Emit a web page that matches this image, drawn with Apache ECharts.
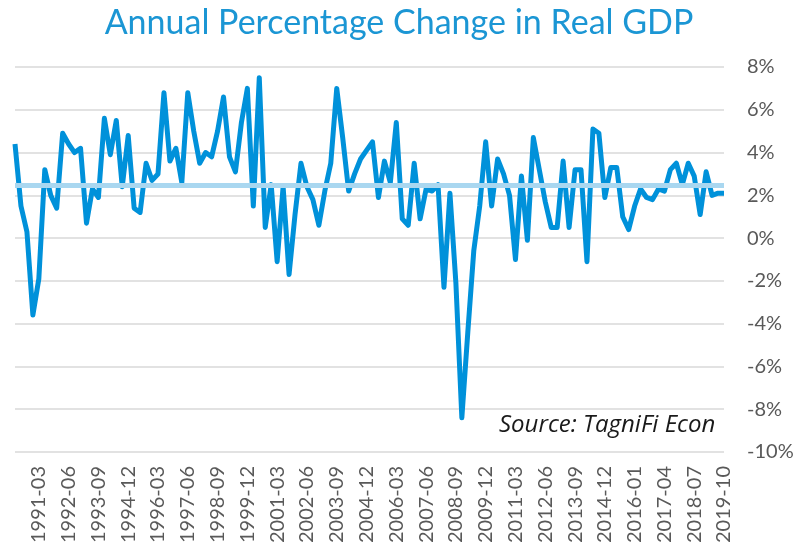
<!DOCTYPE html>
<html>
<head>
<meta charset="utf-8">
<title>Annual Percentage Change in Real GDP</title>
<script src="https://cdn.jsdelivr.net/npm/echarts@6/dist/echarts.min.js"></script>
<style>
  html, body { margin: 0; padding: 0; background: #fff; }
  #chart { width: 798px; height: 548px; }
</style>
</head>
<body>
<div id="chart"></div>
<script>
// quarters, 1990 Q1 .. 2019 Q4 (source switched to first-month-of-quarter dates in 2015)
const quarters = [
  '1990-03', '1990-06', '1990-09', '1990-12', '1991-03', '1991-06', '1991-09', '1991-12',
  '1992-03', '1992-06', '1992-09', '1992-12', '1993-03', '1993-06', '1993-09', '1993-12',
  '1994-03', '1994-06', '1994-09', '1994-12', '1995-03', '1995-06', '1995-09', '1995-12',
  '1996-03', '1996-06', '1996-09', '1996-12', '1997-03', '1997-06', '1997-09', '1997-12',
  '1998-03', '1998-06', '1998-09', '1998-12', '1999-03', '1999-06', '1999-09', '1999-12',
  '2000-03', '2000-06', '2000-09', '2000-12', '2001-03', '2001-06', '2001-09', '2001-12',
  '2002-03', '2002-06', '2002-09', '2002-12', '2003-03', '2003-06', '2003-09', '2003-12',
  '2004-03', '2004-06', '2004-09', '2004-12', '2005-03', '2005-06', '2005-09', '2005-12',
  '2006-03', '2006-06', '2006-09', '2006-12', '2007-03', '2007-06', '2007-09', '2007-12',
  '2008-03', '2008-06', '2008-09', '2008-12', '2009-03', '2009-06', '2009-09', '2009-12',
  '2010-03', '2010-06', '2010-09', '2010-12', '2011-03', '2011-06', '2011-09', '2011-12',
  '2012-03', '2012-06', '2012-09', '2012-12', '2013-03', '2013-06', '2013-09', '2013-12',
  '2014-03', '2014-06', '2014-09', '2014-12', '2015-01', '2015-04', '2015-07', '2015-10',
  '2016-01', '2016-04', '2016-07', '2016-10', '2017-01', '2017-04', '2017-07', '2017-10',
  '2018-01', '2018-04', '2018-07', '2018-10', '2019-01', '2019-04', '2019-07', '2019-10'
];

// real GDP change, %
const gdpChange = [
  4.4, 1.5, 0.3, -3.6, -1.9, 3.2, 2.0, 1.4,
  4.9, 4.4, 4.0, 4.2, 0.7, 2.3, 1.9, 5.6,
  3.9, 5.5, 2.4, 4.8, 1.4, 1.2, 3.5, 2.7,
  3.0, 6.8, 3.6, 4.2, 2.6, 6.8, 5.0, 3.5,
  4.0, 3.8, 5.0, 6.6, 3.8, 3.1, 5.4, 7.0,
  1.5, 7.5, 0.5, 2.5, -1.1, 2.4, -1.7, 1.1,
  3.5, 2.4, 1.8, 0.6, 2.2, 3.5, 7.0, 4.7,
  2.2, 3.0, 3.7, 4.1, 4.5, 1.9, 3.6, 2.6,
  5.4, 0.9, 0.6, 3.5, 0.9, 2.3, 2.2, 2.5,
  -2.3, 2.1, -2.1, -8.4, -4.4, -0.6, 1.5, 4.5,
  1.5, 3.7, 3.0, 2.0, -1.0, 2.9, -0.1, 4.7,
  3.2, 1.7, 0.5, 0.5, 3.6, 0.5, 3.2, 3.2,
  -1.1, 5.1, 4.9, 1.9, 3.3, 3.3, 1.0, 0.4,
  1.5, 2.3, 1.9, 1.8, 2.3, 2.2, 3.2, 3.5,
  2.5, 3.5, 2.9, 1.1, 3.1, 2.0, 2.1, 2.1
];

// long-run average line
const avgGrowth = 2.46;

const yTicks = { min: -10, max: 8, step: 2 };

const chart = echarts.init(document.getElementById('chart'));

chart.setOption({
  backgroundColor: '#fff',
  animation: false,
  title: {
    text: 'Annual Percentage Change in Real GDP',
    left: 'center',
    top: 1,
    textStyle: {
      color: '#1b96d4',
      fontFamily: 'Lato',
      fontWeight: 'normal',
      fontSize: 34
    }
  },
  grid: {
    left: 15,
    right: 74,
    top: 67,
    bottom: 96,
    containLabel: false
  },
  xAxis: {
    type: 'category',
    data: quarters,
    boundaryGap: false,
    axisLine: { show: false },
    axisTick: { show: false },
    axisLabel: {
      rotate: 90,
      margin: 14,
      color: '#595959',
      fontFamily: 'Lato',
      fontSize: 20,
      interval: function (index) { return index % 5 === 4 }
    },
    splitLine: { show: false }
  },
  yAxis: {
    type: 'value',
    position: 'right',
    min: yTicks.min,
    max: yTicks.max,
    interval: yTicks.step,
    axisLine: { show: false },
    axisTick: { show: false },
    axisLabel: {
      margin: 23,
      color: '#595959',
      fontFamily: 'Lato',
      fontSize: 20,
      formatter: '{value}%'
    },
    splitLine: {
      show: true,
      lineStyle: { color: '#d9d9d9', width: 1.5 }
    }
  },
  graphic: [{
    type: 'text',
    left: 499,
    top: 413,
    style: {
      text: 'Source: TagniFi Econ',
      fill: '#1a1a1a',
      font: 'italic 24px "Open Sans"'
    }
  }],
  series: [
    {
      name: 'Average',
      type: 'line',
      data: [],
      z: 1,
      markLine: {
        silent: true,
        symbol: 'none',
        label: { show: false },
        lineStyle: { color: '#a9d7f0', width: 5, type: 'solid' },
        data: [{ yAxis: avgGrowth }]
      }
    },
    {
      name: 'Real GDP',
      type: 'line',
      data: gdpChange,
      z: 3,
      symbol: 'none',
      lineStyle: { color: '#0091da', width: 5, join: 'round' }
    }
  ]
});
</script>
</body>
</html>
